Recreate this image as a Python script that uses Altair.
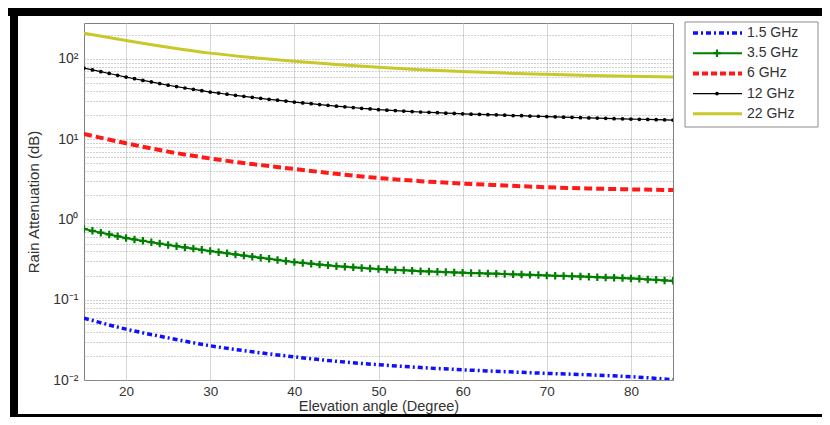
import altair as alt
import pandas as pd

# ---------------- data ----------------
angles_fine = list(range(15, 86))
angles_coarse = [15, 20, 25, 30, 35, 40, 45, 50, 55, 60, 65, 70, 75, 80, 85]

att_1_5ghz = [0.059, 0.043, 0.0335, 0.0267, 0.0225, 0.0194, 0.0171, 0.0155,
              0.0143, 0.0134, 0.0127, 0.0121, 0.0116, 0.0110, 0.0101]

att_3_5ghz = [0.760, 0.721, 0.685, 0.650, 0.617, 0.586, 0.563, 0.541, 0.520, 0.500,
              0.481, 0.464, 0.448, 0.433, 0.418, 0.404, 0.391, 0.379, 0.367, 0.355,
              0.344, 0.333, 0.323, 0.313, 0.303, 0.294, 0.287, 0.281, 0.274, 0.268,
              0.262, 0.258, 0.253, 0.249, 0.245, 0.241, 0.238, 0.235, 0.233, 0.230,
              0.227, 0.225, 0.223, 0.221, 0.219, 0.217, 0.215, 0.214, 0.212, 0.211,
              0.209, 0.207, 0.206, 0.204, 0.203, 0.201, 0.199, 0.198, 0.196, 0.195,
              0.193, 0.191, 0.189, 0.188, 0.186, 0.184, 0.182, 0.179, 0.177, 0.174,
              0.172]

att_6ghz = [11.6, 8.9, 7.0, 5.75, 4.90, 4.25, 3.70, 3.28, 3.00, 2.80, 2.65, 2.52,
            2.43, 2.37, 2.32]

att_12ghz = [76.8, 72.9, 69.3, 65.8, 62.5, 59.3, 56.6, 54.0, 51.6, 49.2,
             47.0, 45.2, 43.4, 41.8, 40.2, 38.6, 37.5, 36.3, 35.2, 34.2,
             33.2, 32.3, 31.4, 30.6, 29.8, 29.0, 28.3, 27.7, 27.0, 26.4,
             25.8, 25.3, 24.8, 24.2, 23.8, 23.3, 23.0, 22.7, 22.4, 22.1,
             21.8, 21.6, 21.4, 21.1, 20.9, 20.7, 20.5, 20.4, 20.2, 20.1,
             19.9, 19.7, 19.6, 19.4, 19.3, 19.1, 19.0, 18.8, 18.7, 18.5,
             18.4, 18.3, 18.2, 18.0, 17.9, 17.8, 17.7, 17.6, 17.5, 17.4,
             17.3]

att_22ghz = [209, 170, 140, 118, 104, 93.5, 85, 78.5, 73.5, 69.5, 66.5, 64.2,
             62.2, 60.6, 59.3]

series_names = ["1.5 GHz", "3.5 GHz", "6 GHz", "12 GHz", "22 GHz"]

x_ticks = [20, 30, 40, 50, 60, 70, 80]
y_grid = [0.01, 0.02, 0.03, 0.04, 0.05, 0.06, 0.07, 0.08, 0.09,
          0.1, 0.2, 0.3, 0.4, 0.5, 0.6, 0.7, 0.8, 0.9,
          1, 2, 3, 4, 5, 6, 7, 8, 9,
          10, 20, 30, 40, 50, 60, 70, 80, 90,
          100, 200]

# ---------------- tables ----------------
df_15 = pd.DataFrame({"angle": angles_coarse, "att": att_1_5ghz})
df_35 = pd.DataFrame({"angle": angles_fine, "att": att_3_5ghz})
df_6 = pd.DataFrame({"angle": angles_coarse, "att": att_6ghz})
df_12 = pd.DataFrame({"angle": angles_fine, "att": att_12ghz})
df_22 = pd.DataFrame({"angle": angles_coarse, "att": att_22ghz})
one = pd.DataFrame({"k": [0]})

FONT = "Liberation Sans"
TXT = "#333333"

X = alt.X("angle:Q",
          scale=alt.Scale(domain=[15, 85], nice=False, zero=False),
          axis=alt.Axis(values=x_ticks, title="Elevation angle (Degree)",
                        grid=True, gridColor="#d6d6d6", gridWidth=1,
                        ticks=False, tickSize=0, domain=False,
                        labelFontSize=13.5, titleFontSize=14.5,
                        labelPadding=4, titlePadding=2))
Y = alt.Y("att:Q",
          scale=alt.Scale(type="log", domain=[0.01, 280], nice=False),
          axis=alt.Axis(values=y_grid, title="Rain Attenuation (dB)",
                        grid=True, gridColor="#a0a0a0", gridDash=[1, 2], gridWidth=1,
                        ticks=False, tickSize=0, domain=False,
                        labelFontSize=14, titleFontSize=15,
                        labelPadding=6, titlePadding=11,
                        labelExpr="datum.value == 0.01 ? '10⁻²' : datum.value == 0.1 ? '10⁻¹' : "
                                  "datum.value == 1 ? '10⁰' : datum.value == 10 ? '10¹' : "
                                  "datum.value == 100 ? '10²' : ''"))

plus_path = "M-1,0L1,0M0,-1L0,1"

blue = "#1010ff"
green = "#008000"
red = "#ff1a1a"
black = "#000000"
yellow = "#c8c828"

l15 = alt.Chart(df_15).mark_line(color=blue, strokeWidth=3.5, strokeDash=[5, 3, 2, 3],
                                 interpolate="monotone", clip=True).encode(x=X, y=Y)
l35 = alt.Chart(df_35).mark_line(color=green, strokeWidth=2, clip=True).encode(x=X, y=Y)
p35 = alt.Chart(df_35).mark_point(shape=plus_path, size=56, filled=False, color=green,
                                  strokeWidth=2.2, opacity=1, clip=True).encode(x=X, y=Y)
l6 = alt.Chart(df_6).mark_line(color=red, strokeWidth=4, strokeDash=[8, 4],
                               interpolate="monotone", clip=True).encode(x=X, y=Y)
l12 = alt.Chart(df_12).mark_line(color=black, strokeWidth=1.2, clip=True).encode(x=X, y=Y)
p12 = alt.Chart(df_12).mark_circle(size=14, color=black, opacity=1, clip=True).encode(x=X, y=Y)
l22 = alt.Chart(df_22).mark_line(color=yellow, strokeWidth=3,
                                 interpolate="monotone", clip=True).encode(x=X, y=Y)

# ---------------- legend (drawn by hand) ----------------
legend_layers = [
    alt.Chart(one).mark_rect(fill="white", stroke="#8c8c8c", strokeWidth=1, clip=False).encode(
        x=alt.value(601), x2=alt.value(734), y=alt.value(-1), y2=alt.value(104))
]
styles = [
    dict(color=blue, strokeWidth=3.5, strokeDash=[5, 3, 2, 3]),
    dict(color=green, strokeWidth=2),
    dict(color=red, strokeWidth=4, strokeDash=[6, 3]),
    dict(color=black, strokeWidth=1.2),
    dict(color=yellow, strokeWidth=3),
]
for i, name in enumerate(series_names):
    yy = 10 + 20.2 * i
    legend_layers.append(alt.Chart(one).mark_rule(clip=False, **styles[i]).encode(
        x=alt.value(609), x2=alt.value(658), y=alt.value(yy)))
    if name == "3.5 GHz":
        legend_layers.append(alt.Chart(one).mark_point(
            shape=plus_path, size=56, filled=False, color=green, strokeWidth=2.2,
            opacity=1, clip=False).encode(x=alt.value(633), y=alt.value(yy)))
    if name == "12 GHz":
        legend_layers.append(alt.Chart(one).mark_circle(
            size=14, color=black, opacity=1, clip=False).encode(
            x=alt.value(633), y=alt.value(yy)))
    legend_layers.append(alt.Chart(one).mark_text(
        align="left", baseline="middle", font=FONT, fontSize=14, color=TXT,
        clip=False).encode(x=alt.value(663), y=alt.value(yy), text=alt.value(name)))

# ---------------- black picture frame ----------------
frame = [
    alt.Chart(one).mark_rule(color="black", strokeWidth=8, clip=False).encode(
        x=alt.value(-76), x2=alt.value(738), y=alt.value(-11)),
    alt.Chart(one).mark_rule(color="black", strokeWidth=8, clip=False).encode(
        x=alt.value(-70), y=alt.value(-15), y2=alt.value(394)),
    alt.Chart(one).mark_rule(color="black", strokeWidth=3, clip=False).encode(
        x=alt.value(-74), x2=alt.value(738), y=alt.value(392.5)),
]

chart = alt.layer(l15, l35, p35, l6, l12, p12, l22, *legend_layers, *frame).properties(
    width=589, height=357,
    autosize=alt.AutoSizeParams(type="none"),
    padding={"left": 76, "top": 15, "right": 149, "bottom": 37},
    background="white",
).configure_view(
    stroke="#7f7f7f", strokeWidth=1
).configure_axis(
    labelFont=FONT, titleFont=FONT, labelColor=TXT, titleColor=TXT,
    titleFontWeight="normal"
)

chart.save("out.html", embed_options={"renderer": "svg", "actions": False})
